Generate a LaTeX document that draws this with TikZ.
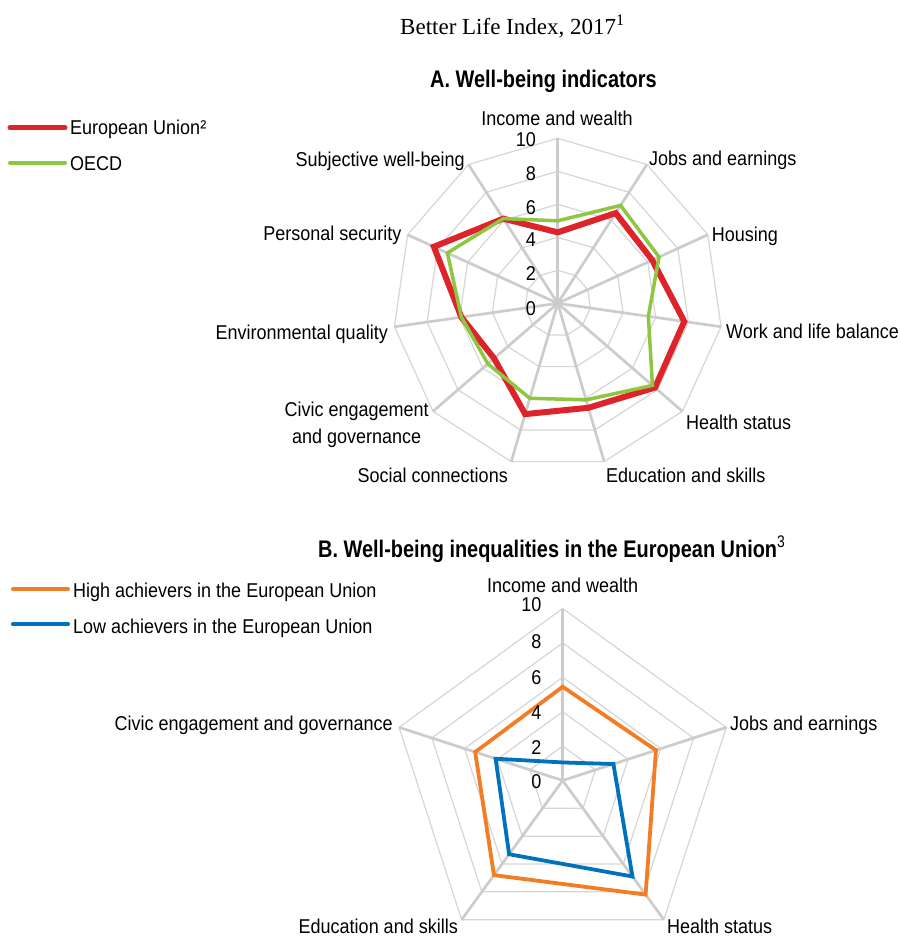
\documentclass[tikz,border=0pt]{standalone}
\usepackage{fontspec}
\setmainfont[FakeStretch=0.9]{Liberation Sans}
\newfontfamily\headfont[FakeStretch=0.83]{Liberation Sans}
\newfontfamily\titlefont{Liberation Serif}
\definecolor{eured}{RGB}{221,36,42}
\definecolor{oecdgreen}{RGB}{141,198,63}
\definecolor{hiorange}{RGB}{243,125,36}
\definecolor{loblue}{RGB}{0,114,188}
\definecolor{spokegray}{RGB}{204,204,204}
\definecolor{ringgray}{RGB}{214,214,214}
\tikzset{
  lbl/.style={font=\fontsize{20}{24}\selectfont, inner sep=0pt},
  head/.style={font=\headfont\bfseries\fontsize{24}{28}\selectfont, inner sep=0pt},
  ringline/.style={draw=ringgray, line width=1.2pt},
  spokeline/.style={draw=spokegray, line width=2.7pt},
  legline/.style={line width=5pt, line cap=round},
}
\begin{document}
\begin{tikzpicture}[x=1pt,y=-1pt]
\useasboundingbox[fill=white] (0,0) rectangle (900,939);

% titles
\node[font=\titlefont\fontsize{23}{27}\selectfont, inner sep=0pt, anchor=base west] (maintitle) at (400,34.3) {Better Life Index, 2017\textsuperscript{1}};
\node[head, anchor=base west] (titleA) at (430,87.3) {A. Well-being indicators};
\node[head, anchor=base west] (titleB) at (318,557) {B. Well-being inequalities in the European Union{\mdseries\textsuperscript{3}}};

% ---------- Panel A ----------
\begin{scope}[shift={(557.7pt,-303.3pt)}, x=1pt, y=1pt]
  \foreach \r in {33,66,99,132,165}
    \draw[ringline] (90:\r) \foreach \i in {1,...,10} { -- ({90-\i*360/11}:\r) } -- cycle;
  \foreach \i in {0,...,10}
    \draw[spokeline] (0,0) -- ({90-\i*360/11}:165);
  \foreach \v [count=\i from 0] in {4.3,6.5,6.3,7.75,7.8,6.6,7.0,5.1,5.9,8.25,6.1}
    \coordinate (eu\i) at ({90-\i*360/11}:{16.5*\v});
  \foreach \v [count=\i from 0] in {5.0,7.05,6.75,5.55,7.6,6.1,6.0,5.6,5.9,7.35,6.1}
    \coordinate (oe\i) at ({90-\i*360/11}:{16.5*\v});
  \draw[eured, line width=6pt] (eu0) -- (eu1) -- (eu2) -- (eu3) -- (eu4) -- (eu5) -- (eu6) -- (eu7) -- (eu8) -- (eu9) -- (eu10) -- cycle;
  \draw[oecdgreen, line width=3.5pt] (oe0) -- (oe1) -- (oe2) -- (oe3) -- (oe4) -- (oe5) -- (oe6) -- (oe7) -- (oe8) -- (oe9) -- (oe10) -- cycle;
\end{scope}
\foreach \t/\yy in {0/308.3,2/273.3,4/240,6/207.3,8/173.3,10/140}
  \node[lbl, anchor=east] (ta\t) at (536,\yy) {\t};

\node[lbl, anchor=base] (la0) at (557,125) {Income and wealth};
\node[lbl, anchor=base west] (la1) at (649,165) {Jobs and earnings};
\node[lbl, anchor=base west] (la2) at (711.7,241.7) {Housing};
\node[lbl, anchor=base west] (la3) at (726,338.5) {Work and life balance};
\node[lbl, anchor=base west] (la4) at (686,429) {Health status};
\node[lbl, anchor=base west] (la5) at (606,482) {Education and skills};
\node[lbl, anchor=base east] (la6) at (508,482) {Social connections};
\node[lbl, anchor=base] (la7a) at (356.7,416) {Civic engagement};
\node[lbl, anchor=base] (la7b) at (356.7,443) {and governance};
\node[lbl, anchor=base east] (la8) at (388,339.5) {Environmental quality};
\node[lbl, anchor=base east] (la9) at (401.7,240.7) {Personal security};
\node[lbl, anchor=base east] (la10) at (465,166) {Subjective well-being};

% legend A
\coordinate (lgA1s) at (10,127.7); \coordinate (lgA1e) at (65,127.7);
\coordinate (lgA2s) at (10,162.7); \coordinate (lgA2e) at (65,162.7);
\draw[legline, eured] (lgA1s) -- (lgA1e);
\draw[legline, oecdgreen, line width=4pt] (lgA2s) -- (lgA2e);
\node[lbl, anchor=base west] (lgA1) at (70,135) {European Union²};
\node[lbl, anchor=base west] (lgA2) at (70,170) {OECD};

% ---------- Panel B ----------
\begin{scope}[shift={(562.7pt,-780.5pt)}, x=1pt, y=1pt]
  \foreach \r in {34.4,68.8,103.2,137.6,172}
    \draw[ringline] (90:\r) \foreach \i in {1,...,4} { -- ({90-\i*72}:\r) } -- cycle;
  \foreach \i in {0,...,4}
    \draw[spokeline] (0,0) -- ({90-\i*72}:172);
  \foreach \v [count=\i from 0] in {5.45,5.7,8.2,6.8,5.35}
    \coordinate (hi\i) at ({90-\i*72}:{17.2*\v});
  \foreach \v [count=\i from 0] in {1.05,3.1,6.9,5.3,4.1}
    \coordinate (lo\i) at ({90-\i*72}:{17.2*\v});
  \draw[hiorange, line width=3.8pt] (hi0) -- (hi1) -- (hi2) -- (hi3) -- (hi4) -- cycle;
  \draw[loblue, line width=3.8pt] (lo0) -- (lo1) -- (lo2) -- (lo3) -- (lo4) -- cycle;
\end{scope}
\foreach \t/\yy in {0/781.7,2/747.7,4/712.7,6/677.3,8/641.7,10/605}
  \node[lbl, anchor=east] (tb\t) at (541.5,\yy) {\t};

\node[lbl, anchor=base] (lb0) at (562.7,592.3) {Income and wealth};
\node[lbl, anchor=base west] (lb1) at (730,730) {Jobs and earnings};
\node[lbl, anchor=base west] (lb2) at (667,933.5) {Health status};
\node[lbl, anchor=base east] (lb3) at (458,933.5) {Education and skills};
\node[lbl, anchor=base east] (lb4) at (393,730) {Civic engagement and governance};

% legend B
\coordinate (lgB1s) at (13,589); \coordinate (lgB1e) at (68,589);
\coordinate (lgB2s) at (13,624.3); \coordinate (lgB2e) at (68,624.3);
\draw[legline, hiorange, line width=4pt] (lgB1s) -- (lgB1e);
\draw[legline, loblue, line width=4pt] (lgB2s) -- (lgB2e);
\node[lbl, anchor=base west] (lgB1) at (73,597.3) {High achievers in the European Union};
\node[lbl, anchor=base west] (lgB2) at (73,633.3) {Low achievers in the European Union};
\end{tikzpicture}
\end{document}
